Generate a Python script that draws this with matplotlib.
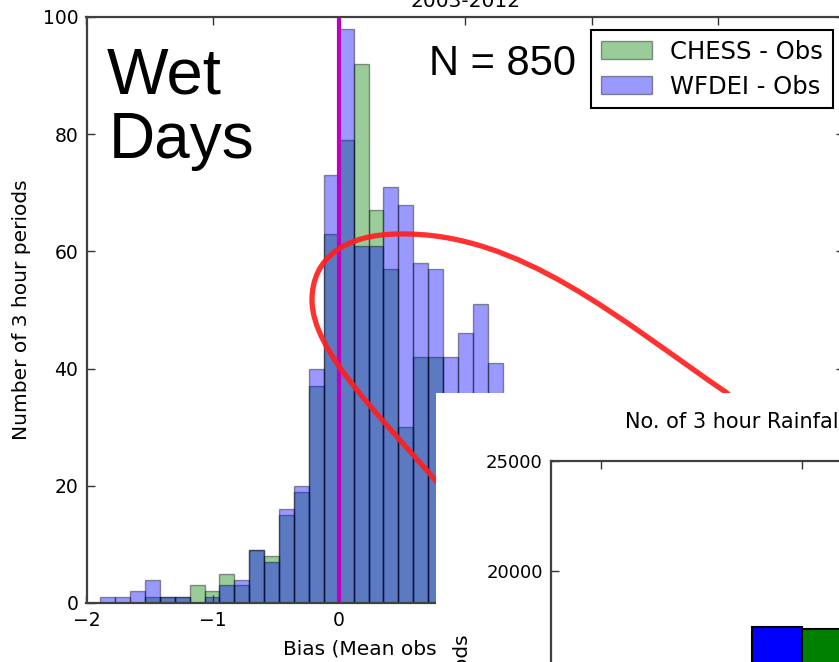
import numpy as np
import matplotlib.pyplot as plt
from matplotlib.patches import Rectangle, PathPatch
from matplotlib.path import Path

# 3-hourly bias histogram, wet days only
bin_edges = np.linspace(-1.891, 1.296, 28)
chess_counts = [0, 0, 0, 1, 1, 1, 3, 2, 5, 3, 9, 8, 15, 19, 37, 63, 79,
                92, 67, 57, 30, 42, 42, 30, 27, 24, 22]
wfdei_counts = [1, 1, 2, 4, 1, 1, 0, 1, 3, 4, 9, 7, 16, 20, 40, 73, 98,
                61, 61, 71, 68, 58, 57, 42, 46, 51, 41]
n_periods = 850

# rainfall period totals for the small panel
inset_groups = [0, 1]
inset_wfdei = [8200, 17450]
inset_chess = [8000, 17350]

W, H = 839, 662
fig = plt.figure(figsize=(W / 100, H / 100), dpi=100)
fig.patch.set_facecolor("white")


def style_axes(a, size):
    a.tick_params(direction="in", top=True, right=True, length=6, width=1,
                  labelsize=size, pad=6, color="0.2")
    for s in a.spines.values():
        s.set_linewidth(1.6)
        s.set_color("0.25")


ax = fig.add_axes([86.5 / W, 59 / H, 757.5 / W, 586 / H])
widths = np.diff(bin_edges)
ax.bar(bin_edges[:-1], chess_counts, width=widths, align="edge", color="g",
       alpha=0.4, edgecolor="k", linewidth=1, label="CHESS - Obs")
ax.bar(bin_edges[:-1], wfdei_counts, width=widths, align="edge", color="b",
       alpha=0.4, edgecolor="k", linewidth=1, label="WFDEI - Obs")
ax.axvline(0, color=(0.75, 0, 0.75), lw=3)
ax.set_xlim(-2, 4)
ax.set_ylim(0, 100)
ax.set_xticks(range(-2, 5))
ax.set_yticks(range(0, 101, 20))
style_axes(ax, 13.5)
ax.set_title("2003-2012", fontsize=14.5, pad=7.5)
ax.set_ylabel("Number of 3 hour periods", fontsize=14.5)
ax.yaxis.set_label_coords(-0.073, 0.5)
ax.set_xlabel("Bias (Mean obs - Mean model)", fontsize=14.5)
ax.xaxis.set_label_coords(0.2594, -0.062)
ax.xaxis.label.set_ha("left")

ax.text(0.027, (603 - 93) / 586, "Wet", transform=ax.transAxes,
        fontsize=47, family="Liberation Sans", va="baseline")
ax.text(0.029, (603 - 158) / 586, "Days", transform=ax.transAxes,
        fontsize=46, family="Liberation Sans", va="baseline")
ax.text((429 - 86.5) / 757.5, (603 - 75) / 586, f"N = {n_periods}",
        transform=ax.transAxes, fontsize=30, family="Liberation Sans",
        va="baseline")

leg = ax.legend(loc="upper right", bbox_to_anchor=(0.9855, 0.9778),
                borderaxespad=0, fontsize=17.5, fancybox=False,
                handlelength=2.1, handleheight=0.75, handletextpad=0.75,
                labelspacing=0.45, borderpad=0.4)
leg.get_frame().set_edgecolor("k")
leg.get_frame().set_linewidth(1.5)
leg.get_frame().set_alpha(1)

# red loop pointing from the histogram tail to the totals panel
pts = [(450, 497), (380, 415), (312, 352), (312, 300),
       (312, 258), (345, 234), (400, 234),
       (520, 232), (620, 320), (727, 393),
       (800, 470)]
codes = [Path.MOVETO] + [Path.CURVE4] * 9 + [Path.LINETO]
verts = [(x / W, 1 - y / H) for x, y in pts]
loop = PathPatch(Path(verts, codes), transform=fig.transFigure, fill=False,
                 edgecolor="#ff1f1f", lw=3.8, alpha=0.92, zorder=1,
                 capstyle="round")
fig.add_artist(loop)

# white backing for the totals panel
fig.add_artist(Rectangle((436 / W, -0.2), 1, 0.2 + 1 - 393 / H,
                         transform=fig.transFigure, facecolor="white",
                         edgecolor="none", zorder=2))

ax2 = fig.add_axes([551 / W, 1 - 1011 / H, 603 / W, 550 / H], zorder=3)
x = np.array(inset_groups)
ax2.bar(x - 0.25, inset_wfdei, width=0.25, align="edge", color="b",
        edgecolor="k", linewidth=1.5)
ax2.bar(x, inset_chess, width=0.25, align="edge", color="g",
        edgecolor="k", linewidth=1.5)
ax2.set_xlim(-0.25, 2.75)
ax2.set_ylim(0, 25000)
ax2.set_xticks([0, 1, 2])
ax2.set_yticks(range(0, 25001, 5000))
style_axes(ax2, 13)
ax2.set_title("No. of 3 hour Rainfall periods", fontsize=15, pad=24,
              x=(625 - 551) / 603, ha="left")
ax2.set_ylabel("Number of 3 hour periods", fontsize=14.5)
ax2.yaxis.set_label_coords((472 - 551) / 603, 0.448)

fig.savefig("out.png", dpi=100, facecolor="white")
